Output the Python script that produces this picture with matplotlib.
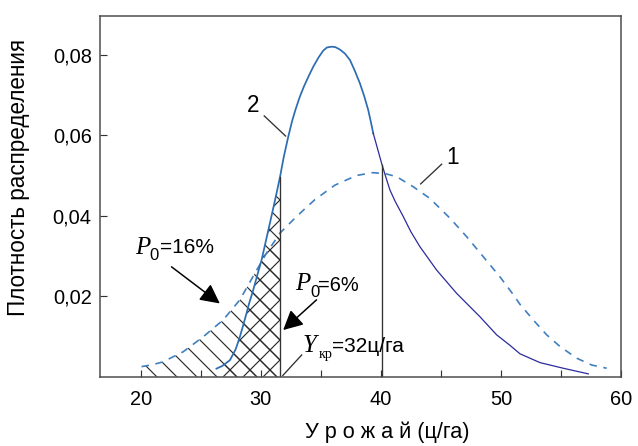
import matplotlib
matplotlib.use("Agg")
import matplotlib.pyplot as plt
from matplotlib.ticker import FixedLocator, FuncFormatter

# Кривая 1 (пунктир)
x1 = [20.06, 21.0, 21.86, 23.53, 25.19, 26.86, 28.25, 29.5, 30.47, 31.6,
      32.97, 34.5, 36.17, 37.97, 39.3, 40.3, 41.31, 42.69, 44.08, 45.75,
      47.14, 48.53, 49.92, 51.0, 51.58, 52.69, 53.81, 54.92, 56.31, 57.56,
      58.81]
y1 = [0.0025, 0.0030, 0.0037, 0.0062, 0.0099, 0.0141, 0.0191, 0.0257,
      0.0307, 0.0357, 0.0398, 0.0440, 0.0476, 0.0500, 0.0507, 0.0505,
      0.0497, 0.0472, 0.0443, 0.0394, 0.0348, 0.0298, 0.0248, 0.0205,
      0.0180, 0.0141, 0.0104, 0.0075, 0.0046, 0.0029, 0.0021]

# Кривая 2 (сплошная), левая часть и вершина
x2_left = [26.3, 26.8, 27.42, 27.9, 28.25, 28.5, 28.81, 29.0, 29.36, 29.7,
           30.06, 30.4, 30.75, 31.3, 31.6, 31.9, 32.28, 32.6, 32.9, 33.25,
           33.6, 34.0, 34.36, 34.8, 35.19, 35.5, 35.89, 36.2, 36.58, 37.0,
           37.42, 37.8, 38.25, 38.6, 38.94, 39.15, 39.36]
y2_left = [0.0020, 0.0027, 0.0041, 0.0068, 0.0099, 0.0125, 0.0158, 0.0180,
           0.0215, 0.0252, 0.0290, 0.0335, 0.0381, 0.0455, 0.0497, 0.0545,
           0.0596, 0.0635, 0.0665, 0.0696, 0.0722, 0.0748, 0.0770, 0.0793,
           0.0810, 0.0818, 0.0820, 0.0819, 0.0813, 0.0803, 0.0787, 0.0762,
           0.0729, 0.0698, 0.0663, 0.0635, 0.0605]

# Кривая 2, правый хвост (тонкая тёмная линия)
x2_right = [39.36, 40.06, 40.4, 40.75, 41.2, 41.86, 42.5, 43.25, 44.64,
            46.31, 48.25, 49.64, 50.75, 51.58, 53.25, 55.19, 57.28]
y2_right = [0.0605, 0.0530, 0.0497, 0.0464, 0.0435, 0.0398, 0.0360, 0.0323,
            0.0265, 0.0207, 0.0149, 0.0104, 0.0078, 0.0057, 0.0035, 0.0021,
            0.0007]

y_kr = 31.6          # критическая урожайность (вертикальная линия)
y_kr_top = 0.0497
x_mid = 40.06        # вторая вертикальная линия
x_mid_top = 0.0527

x_major = [20, 30, 40, 50, 60]
x_minor = [25, 35, 45, 55]
y_major = [0.02, 0.04, 0.06, 0.08]

plt.rcParams["font.family"] = ["Liberation Sans", "DejaVu Sans"]
plt.rcParams["hatch.linewidth"] = 0.7
plt.rcParams["hatch.color"] = "#2a2a2a"

DPI = 120
fig = plt.figure(figsize=(638 / DPI, 446 / DPI), dpi=DPI)
ax = fig.add_axes([100 / 638, 1 - 376.7 / 446, 521 / 638, 361 / 446])

# штриховка: под пунктиром до Y_кр и под кривой 2 до Y_кр
xa = [x for x in x1 if x <= y_kr + 1e-9]
ya = y1[:len(xa)]
ax.fill_between(xa, 0, ya, facecolor="none", edgecolor="#2a2a2a",
                hatch="\\\\", linewidth=0)
xb = [x for x in x2_left if x <= y_kr + 1e-9]
yb = y2_left[:len(xb)]
ax.fill_between(xb, 0, yb, facecolor="none", edgecolor="#2a2a2a",
                hatch="xx", linewidth=0)

ax.plot(x1, y1, color="#4080c0", lw=1.0, dashes=(4.5, 4))
ax.plot(x2_left, y2_left, color="#2d6db2", lw=1.05)
ax.plot(x2_right, y2_right, color="#2b2b9e", lw=0.75)

ax.plot([y_kr, y_kr], [0, y_kr_top], color="#333333", lw=0.8)
ax.plot([x_mid, x_mid], [0, x_mid_top], color="#333333", lw=0.8)

# подписи кривых
ax.text(29.33, 0.0674, "2", fontsize=13.5, ha="center", va="center")
ax.plot([30.28, 32.06], [0.0648, 0.0598], color="#333333", lw=0.8)
ax.text(45.96, 0.0545, "1", fontsize=13.5, ha="center", va="center")
ax.plot([45.06, 43.31], [0.0528, 0.0479], color="#333333", lw=0.8)

serif_it = dict(family="Liberation Serif", style="italic")
arrow = dict(arrowstyle="-|>,head_length=0.55,head_width=0.28",
             mutation_scale=18, color="black", lw=0.9, shrinkA=0, shrinkB=0)

# P0 = 16%
ax.text(19.5, 0.0305, "P", fontsize=15, va="baseline", **serif_it)
ax.text(20.75, 0.0290, "0", fontsize=10, va="baseline")
ax.text(21.6, 0.0307, "=16%", fontsize=12.5, va="baseline")
ax.annotate("", xy=(26.58, 0.0182), xytext=(22.56, 0.0273), arrowprops=arrow)

# P0 = 6%
ax.text(32.83, 0.02154, "P", fontsize=15, va="baseline", **serif_it)
ax.text(34.12, 0.0199, "0", fontsize=10, va="baseline")
ax.text(34.8, 0.0214, "=6%", fontsize=12, va="baseline")
ax.annotate("", xy=(31.86, 0.0116), xytext=(34.64, 0.0191), arrowprops=arrow)

# Y_кр = 32 ц/га
ax.text(33.5, 0.0062, "Y", fontsize=15, va="baseline", **serif_it)
ax.text(34.78, 0.00457, "кр", fontsize=8.5, va="baseline",
        family="Liberation Serif")
ax.text(35.95, 0.0062, "=32ц/га", fontsize=12.5, va="baseline")
ax.plot([31.83, 33.4], [0.0003, 0.0054], color="#333333", lw=0.8)

ax.set_xlim(16.6, 60)
ax.set_ylim(0, 0.0897)

ax.xaxis.set_major_locator(FixedLocator(x_major))
ax.xaxis.set_minor_locator(FixedLocator(x_minor))
ax.yaxis.set_major_locator(FixedLocator(y_major))
ax.yaxis.set_major_formatter(FuncFormatter(lambda v, p: f"{v:.2f}".replace(".", ",")))

for s in ax.spines.values():
    s.set_color("#4a4a4a")
    s.set_linewidth(0.9)
ax.tick_params(which="both", direction="in", length=4, width=0.7,
               color="#333333", labelsize=12)
ax.tick_params(axis="x", pad=8)
ax.tick_params(axis="y", pad=5)

fig.text(387 / 638, 1 - 432 / 446, "У р о ж а й (ц/га)", fontsize=13,
         ha="center", va="center")
fig.text(19 / 638, 1 - 178 / 446, "Плотность распределения", fontsize=13.5,
         rotation=90, ha="center", va="center")

fig.savefig("out.png", dpi=DPI)
